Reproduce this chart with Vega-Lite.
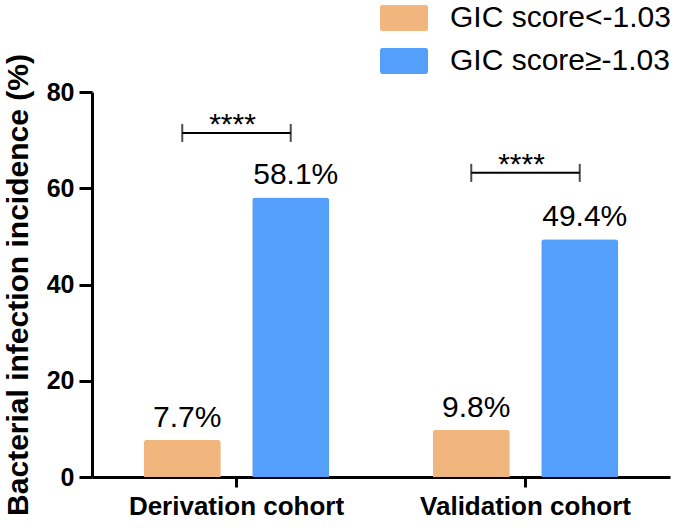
{
  "$schema": "https://vega.github.io/schema/vega-lite/v6.json",
  "width": 578,
  "height": 385,
  "autosize": {"type": "none"},
  "padding": {"left": 92, "top": 92, "right": 15, "bottom": 51},
  "background": "white",
  "config": {
    "view": {"stroke": null},
    "font": "Liberation Sans",
    "axis": {
      "domainColor": "black",
      "domainWidth": 3,
      "tickColor": "black",
      "tickWidth": 3,
      "labelColor": "black",
      "labelFont": "Liberation Sans",
      "labelFontWeight": "bold",
      "labelLimit": 0,
      "grid": false
    }
  },
  "datasets": {
    "bars": [
      {"cohort": "Derivation cohort", "group": "GIC score<-1.03", "value": 7.7, "label": "7.7%"},
      {"cohort": "Derivation cohort", "group": "GIC score≥-1.03", "value": 58.1, "label": "58.1%"},
      {"cohort": "Validation cohort", "group": "GIC score<-1.03", "value": 9.8, "label": "9.8%"},
      {"cohort": "Validation cohort", "group": "GIC score≥-1.03", "value": 49.4, "label": "49.4%"}
    ],
    "brackets": [
      {"cohort": "Derivation cohort", "group": "GIC score<-1.03", "value": 71.5},
      {"cohort": "Derivation cohort", "group": "GIC score≥-1.03", "value": 71.5},
      {"cohort": "Validation cohort", "group": "GIC score<-1.03", "value": 63.2},
      {"cohort": "Validation cohort", "group": "GIC score≥-1.03", "value": 63.2}
    ],
    "stars": [
      {"cohort": "Derivation cohort", "value": 71.5, "sig": "****"},
      {"cohort": "Validation cohort", "value": 63.2, "sig": "****"}
    ]
  },
  "encoding": {
    "x": {
      "field": "cohort",
      "type": "nominal",
      "sort": ["Derivation cohort", "Validation cohort"],
      "scale": {"paddingInner": 0, "paddingOuter": 0},
      "axis": {"title": null, "labelAngle": 0, "labelFontSize": 26, "tickSize": 10, "labelPadding": 6}
    },
    "y": {
      "field": "value",
      "type": "quantitative",
      "scale": {"domain": [0, 80], "nice": false},
      "axis": {
        "values": [0, 20, 40, 60, 80],
        "title": "Bacterial infection incidence (%)",
        "titleFontSize": 30,
        "titleFontWeight": "bold",
        "titleColor": "black",
        "titleFont": "Liberation Sans",
        "titlePadding": 13,
        "labelFontSize": 25,
        "tickSize": 13,
        "labelPadding": 5
      }
    }
  },
  "layer": [
    {
      "data": {"name": "bars"},
      "mark": {"type": "bar", "cornerRadiusTopLeft": 3, "cornerRadiusTopRight": 3},
      "encoding": {
        "xOffset": {
          "field": "group",
          "type": "nominal",
          "sort": ["GIC score<-1.03", "GIC score≥-1.03"],
          "scale": {"paddingInner": 0.29, "paddingOuter": 0.477}
        },
        "color": {
          "field": "group",
          "type": "nominal",
          "sort": ["GIC score<-1.03", "GIC score≥-1.03"],
          "scale": {"domain": ["GIC score<-1.03", "GIC score≥-1.03"], "range": ["#F0B67D", "#539FFA"]},
          "legend": {
            "orient": "none",
            "legendX": 288,
            "legendY": -98,
            "title": null,
            "padding": 0,
            "labelFontSize": 30,
            "labelFont": "Liberation Sans",
            "labelColor": "black",
            "labelLimit": 0,
            "labelOffset": 22,
            "rowPadding": 4,
            "symbolType": "M-0.9,-0.54H0.9Q1,-0.54 1,-0.44V0.44Q1,0.54 0.9,0.54H-0.9Q-1,0.54 -1,0.44V-0.44Q-1,-0.54 -0.9,-0.54Z",
            "symbolSize": 2304,
            "symbolStrokeWidth": 0,
            "symbolOpacity": 1
          }
        }
      }
    },
    {
      "data": {"name": "bars"},
      "mark": {"type": "text", "dy": -13, "dx": 5, "fontSize": 30, "baseline": "alphabetic", "font": "Liberation Sans", "color": "black"},
      "encoding": {
        "xOffset": {"field": "group", "type": "nominal", "sort": ["GIC score<-1.03", "GIC score≥-1.03"]},
        "text": {"field": "label"}
      }
    },
    {
      "data": {"name": "brackets"},
      "mark": {"type": "line", "color": "black", "strokeWidth": 2, "xOffset": -5},
      "encoding": {
        "xOffset": {"field": "group", "type": "nominal", "sort": ["GIC score<-1.03", "GIC score≥-1.03"]},
        "detail": {"field": "cohort"}
      }
    },
    {
      "data": {"name": "brackets"},
      "mark": {"type": "tick", "orient": "vertical", "size": 18, "thickness": 2, "color": "black", "xOffset": -5},
      "encoding": {
        "xOffset": {"field": "group", "type": "nominal", "sort": ["GIC score<-1.03", "GIC score≥-1.03"]}
      }
    },
    {
      "data": {"name": "stars"},
      "mark": {"type": "text", "dx": -4, "dy": 1, "fontSize": 30, "baseline": "alphabetic", "font": "Liberation Sans", "color": "black"},
      "encoding": {
        "text": {"field": "sig"}
      }
    }
  ]
}
